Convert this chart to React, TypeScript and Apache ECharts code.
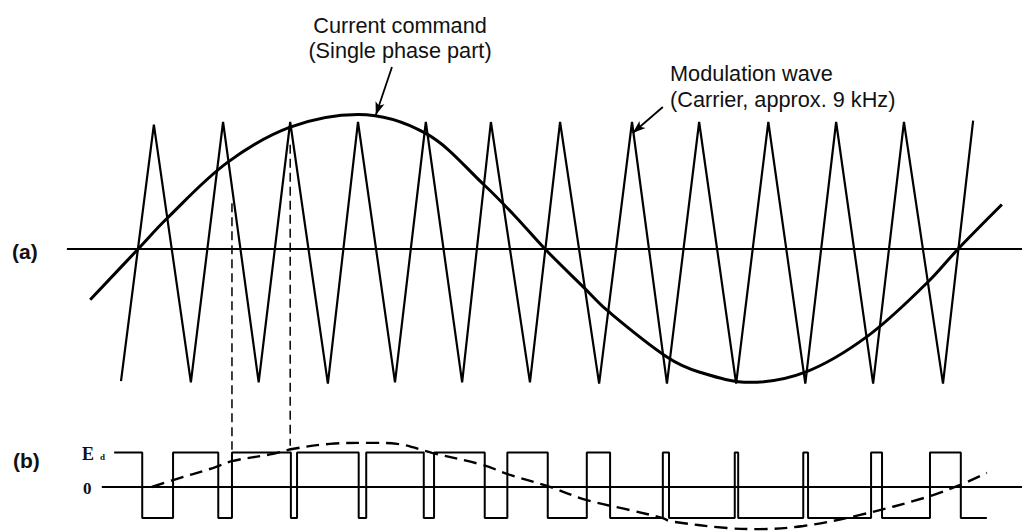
import React, { useEffect, useRef } from "react";
import * as echarts from "echarts";

// x unit: carrier periods (t); panel (a) y unit: carrier amplitude; panel (b) y unit: Ed
const carrierTimes = [0, 0.48, 1.02, 1.49, 2.01, 2.47, 3.02, 3.46, 4.0, 4.45, 4.98, 5.4, 5.97, 6.41, 6.98, 7.46, 7.97, 8.44, 8.98, 9.45, 9.99, 10.44, 10.98, 11.43, 12.0, 12.44];
const carrierValues = [-1.04, 0.98, -1.05, 1.0, -1.05, 1.0, -1.06, 1.0, -1.05, 1.0, -1.05, 1.0, -1.05, 1.0, -1.06, 1.0, -1.06, 1.0, -1.06, 1.0, -1.06, 1.0, -1.06, 1.0, -1.06, 1.01];

const commandTimes = [-0.45, 0.25, 0.67, 1.55, 2.47, 3.46, 4.45, 5.31, 5.75, 6.19, 6.77, 7.09, 7.97, 8.45, 9.18, 9.99, 10.89, 11.78, 12.22, 12.86];
const commandValues = [-0.4, 0, 0.24, 0.68, 0.96, 1.06, 0.91, 0.5, 0.26, 0, -0.31, -0.48, -0.85, -0.97, -1.05, -0.97, -0.69, -0.26, 0, 0.35];

const pulseEdgeTimes = [-0.1, 0.31, 0.76, 1.42, 1.62, 2.48, 2.57, 3.47, 3.58, 4.42, 4.57, 5.31, 5.64, 6.23, 6.8, 7.14, 7.91, 8.0, 8.96, 9.01, 9.96, 10.03, 10.95, 11.11, 11.81, 12.26, 12.64];
const pulseLevels = [1, -0.9, 1, -0.9, 1, -0.9, 1, -0.9, 1, -0.9, 1, -0.9, 1, -0.9, 1, -0.9, 1, -0.9, 1, -0.9, 1, -0.9, 1, -0.9, 1, -0.9, -0.9];

const averageTimes = [0.45, 0.76, 1.34, 1.62, 2.22, 2.5, 3.05, 3.64, 4.03, 4.54, 5.28, 5.68, 6.22, 6.8, 7.43, 7.91, 8.01, 8.85, 9.33, 9.96, 10.79, 11.77, 12.25, 12.64];
const averageValues = [0, 0.2, 0.55, 0.75, 0.96, 1.1, 1.25, 1.28, 1.25, 0.99, 0.64, 0.35, 0.03, -0.38, -0.67, -0.9, -0.99, -1.19, -1.22, -1.13, -0.81, -0.29, 0.06, 0.41];

const connectorTimes = [1.62, 2.47];
const connectorTops = [0.36, 0.82];
const connectorBottoms = [-1.58, -1.55];

const axisAStart = -0.79;
const axisBStart = -0.28;
const axisEnd = 13.2;

const zip = (xs: number[], ys: number[]) => xs.map((x, i) => [x, ys[i]]);

export default function App() {
  const ref = useRef<HTMLDivElement>(null);
  useEffect(() => {
    if (!ref.current) return;
    const chart = echarts.init(ref.current, undefined, { renderer: "svg" });
    const black = "#000";
    const sans = "'Liberation Sans', Arial, sans-serif";
    const serif = "'Liberation Serif', 'Times New Roman', serif";
    const base = { type: "line", symbol: "none", silent: true, animation: false };
    const connectors = connectorTimes.map((t, i) => ({
      ...base,
      yAxisIndex: 0,
      data: [[t, connectorTops[i]], [t, connectorBottoms[i]]],
      lineStyle: { color: black, width: 1.5, type: [9, 5] },
    }));
    chart.setOption({
      animation: false,
      grid: { left: 0, right: 0, top: 0, bottom: 0 },
      xAxis: { type: "value", min: -1.7664, max: 13.1533, show: false },
      yAxis: [
        { type: "value", min: -2.2283, max: 1.9606, show: false },
        { type: "value", min: -1.3043, max: 14.116, show: false },
      ],
      series: [
        { ...base, yAxisIndex: 0, data: [[axisAStart, 0], [axisEnd, 0]], lineStyle: { color: black, width: 2 } },
        { ...base, yAxisIndex: 1, data: [[axisBStart, 0], [axisEnd, 0]], lineStyle: { color: black, width: 1.8 } },
        { ...base, yAxisIndex: 0, data: zip(carrierTimes, carrierValues), lineStyle: { color: black, width: 2.2 } },
        {
          ...base,
          yAxisIndex: 0,
          smooth: 0.35,
          data: zip(commandTimes, commandValues),
          lineStyle: { color: black, width: 3 },
          markLine: {
            silent: true,
            animation: false,
            symbol: ["none", "arrow"],
            symbolSize: [7, 13],
            label: { show: false },
            lineStyle: { color: black, width: 1.8, type: "solid" },
            data: [
              [{ coord: [3.956, 1.433] }, { coord: [3.72, 1.055] }],
              [{ coord: [7.91, 1.118] }, { coord: [7.47, 0.913] }],
            ],
          },
        },
        { ...base, yAxisIndex: 1, step: "end", data: zip(pulseEdgeTimes, pulseLevels), lineStyle: { color: black, width: 2 } },
        { ...base, yAxisIndex: 1, smooth: 0.35, data: zip(averageTimes, averageValues), lineStyle: { color: black, width: 2.4, type: [13, 7] } },
        ...connectors,
      ],
      graphic: [
        { type: "text", x: 400, y: 13, style: { text: "Current command\n(Single phase part)", fontSize: 21.7, fontFamily: sans, fill: "#111", align: "center", verticalAlign: "top", lineHeight: 25 } },
        { type: "text", x: 670, y: 60, style: { text: "Modulation wave\n(Carrier, approx. 9 kHz)", fontSize: 21.7, fontFamily: sans, fill: "#111", align: "left", verticalAlign: "top", lineHeight: 26.5 } },
        { type: "text", x: 12, y: 251, style: { text: "(a)", fontSize: 21, fontWeight: "bold", fontFamily: sans, fill: "#111", align: "left", verticalAlign: "middle" } },
        { type: "text", x: 13, y: 460, style: { text: "(b)", fontSize: 21, fontWeight: "bold", fontFamily: sans, fill: "#111", align: "left", verticalAlign: "middle" } },
        { type: "text", x: 82, y: 454, style: { text: "E", fontSize: 18, fontWeight: "bold", fontFamily: serif, fill: "#111", align: "left", verticalAlign: "middle" } },
        { type: "text", x: 100, y: 457, style: { text: "d", fontSize: 9, fontWeight: "bold", fontFamily: serif, fill: "#111", align: "left", verticalAlign: "middle" } },
        { type: "text", x: 83, y: 488, style: { text: "0", fontSize: 17, fontWeight: "bold", fontFamily: serif, fill: "#111", align: "left", verticalAlign: "middle" } },
      ],
    });
    return () => chart.dispose();
  }, []);
  return <div ref={ref} style={{ position: "fixed", left: 0, top: 0, width: 1022, height: 532, background: "#fff" }} />;
}
